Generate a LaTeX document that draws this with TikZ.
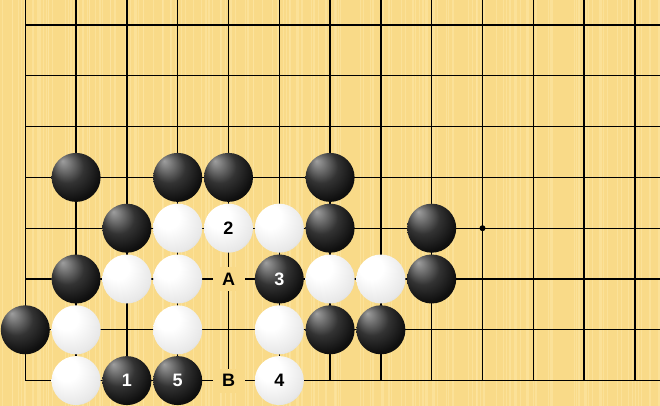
\documentclass[tikz,border=0pt]{standalone}
\usepackage{fontspec}
\setmainfont{Liberation Sans}
\definecolor{board}{RGB}{249,218,136}
\definecolor{boardlight}{RGB}{253,228,160}
\pgfdeclareradialshading{blackstone}{\pgfpoint{-14bp}{17bp}}{color(0bp)=(black!38); color(5bp)=(black!50); color(17bp)=(black!80); color(30bp)=(black!94); color(50bp)=(black)}
\pgfdeclareradialshading{whitestone}{\pgfpoint{-13bp}{15bp}}{color(0bp)=(white); color(12bp)=(white); color(30bp)=(black!9); color(42bp)=(black!24); color(50bp)=(black!42)}
\tikzset{
  gridline/.style={line width=1.3pt, black},
  stone/.style={circle, minimum size=49pt, inner sep=0pt, shade,
     font=\fontsize{18}{20}\selectfont\bfseries},
  bstone/.style={stone, shading=blackstone, text=white},
  wstone/.style={stone, shading=whitestone, text=black},
  lbl/.style={fill=board, inner sep=0pt, minimum width=32pt, minimum height=24pt,
     font=\fontsize{18}{20}\selectfont\bfseries},
}
\begin{document}
\begin{tikzpicture}[x=50.8pt, y=-50.8pt]
\useasboundingbox (-0.498,-0.492) rectangle (12.494,7.5);
\fill[board] (-0.498,-0.492) rectangle (12.494,7.5);
\pgfmathsetseed{7}
\foreach \k in {1,...,160} {
  \pgfmathsetmacro{\sx}{rnd*13-0.5}
  \draw[boardlight, line width=1.2pt, opacity=0.7] (\sx,-0.492) -- (\sx,7.5);
}
\foreach \i in {0,...,12} \draw[gridline] (\i,-0.492) -- (\i,7);
\foreach \j in {0,...,7} \draw[gridline] (0,\j) -- (12.494,\j);
\fill (9,4) circle (3pt);
% row 3
\node[bstone] (b31) at (1,3) {};
\node[bstone] (b33) at (3,3) {};
\node[bstone] (b34) at (4,3) {};
\node[bstone] (b36) at (6,3) {};
% row 4
\node[bstone] (b42) at (2,4) {};
\node[wstone] (w43) at (3,4) {};
\node[wstone] (w44) at (4,4) {2};
\node[wstone] (w45) at (5,4) {};
\node[bstone] (b46) at (6,4) {};
\node[bstone] (b48) at (8,4) {};
% row 5
\node[bstone] (b51) at (1,5) {};
\node[wstone] (w52) at (2,5) {};
\node[wstone] (w53) at (3,5) {};
\node[lbl] (A) at (4,5) {A};
\node[bstone] (b55) at (5,5) {3};
\node[wstone] (w56) at (6,5) {};
\node[wstone] (w57) at (7,5) {};
\node[bstone] (b58) at (8,5) {};
% row 6
\node[bstone] (b60) at (0,6) {};
\node[wstone] (w61) at (1,6) {};
\node[wstone] (w63) at (3,6) {};
\node[wstone] (w65) at (5,6) {};
\node[bstone] (b66) at (6,6) {};
\node[bstone] (b67) at (7,6) {};
% row 7
\node[wstone] (w71) at (1,7) {};
\node[bstone] (b72) at (2,7) {1};
\node[bstone] (b73) at (3,7) {5};
\node[lbl] (B) at (4,7) {B};
\node[wstone] (w75) at (5,7) {4};
\end{tikzpicture}
\end{document}
